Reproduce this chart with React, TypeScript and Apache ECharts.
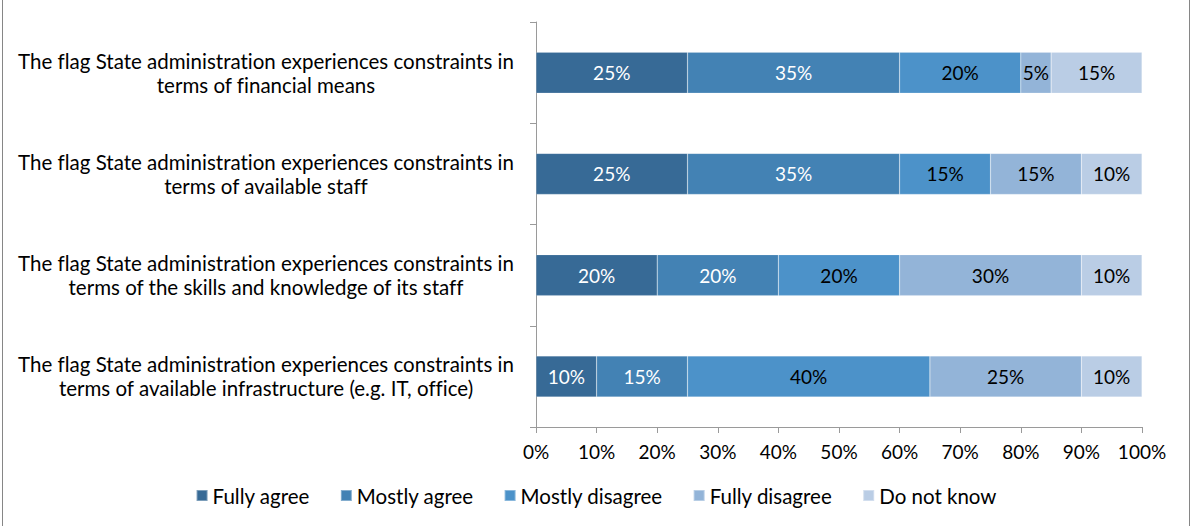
import React, { useEffect, useRef } from "react";
import * as echarts from "echarts";

const categories = [
  "The flag State administration experiences constraints in\nterms of financial means",
  "The flag State administration experiences constraints in\nterms of available staff",
  "The flag State administration experiences constraints in\nterms of the skills and knowledge of its staff",
  "The flag State administration experiences constraints in\nterms of available infrastructure (e.g. IT, office)",
];
const seriesNames = ["Fully agree", "Mostly agree", "Mostly disagree", "Fully disagree", "Do not know"];
const fullyAgree = [25, 25, 20, 10];
const mostlyAgree = [35, 35, 20, 15];
const mostlyDisagree = [20, 15, 20, 40];
const fullyDisagree = [5, 15, 30, 25];
const doNotKnow = [15, 10, 10, 10];
const xTicks = [0, 10, 20, 30, 40, 50, 60, 70, 80, 90, 100];

const colors = ["#376A96", "#4382B4", "#4C92C9", "#93B4D8", "#BACDE5"];
const labelColors = ["#ffffff", "#ffffff", "#000000", "#000000", "#000000"];
const FONT = "Lato";
const AXIS = "#9A9A9A";

export default function App() {
  const ref = useRef<HTMLDivElement>(null);
  useEffect(() => {
    if (!ref.current) return;
    const chart = echarts.init(ref.current, null, { renderer: "svg" });
    const data = [fullyAgree, mostlyAgree, mostlyDisagree, fullyDisagree, doNotKnow];
    chart.setOption({
      animation: false,
      textStyle: { fontFamily: FONT },
      grid: { left: 536, right: 50, top: 22, bottom: 99, containLabel: false },
      legend: {
        data: seriesNames,
        bottom: 15,
        left: "center",
        icon: "rect",
        itemWidth: 11,
        itemHeight: 11,
        itemGap: 30,
        textStyle: { fontFamily: FONT, fontSize: 20.5, color: "#000" },
      },
      xAxis: {
        type: "value",
        min: 0,
        max: 100,
        interval: 10,
        axisLine: { show: true, lineStyle: { color: AXIS } },
        axisTick: { show: true, length: 6, lineStyle: { color: AXIS } },
        splitLine: { show: false },
        axisLabel: {
          formatter: (v: number) => (xTicks.includes(v) ? v + "%" : ""),
          color: "#000",
          fontSize: 19,
          fontFamily: FONT,
          margin: 15,
        },
      },
      yAxis: {
        type: "category",
        data: categories,
        inverse: true,
        axisLine: { show: true, lineStyle: { color: AXIS } },
        axisTick: { show: true, length: 6, lineStyle: { color: AXIS } },
        axisLabel: {
          align: "center",
          margin: 270,
          color: "#000",
          fontSize: 20.5,
          lineHeight: 24,
          fontFamily: FONT,
        },
      },
      series: seriesNames.map((name, i) => ({
        name,
        type: "bar",
        stack: "total",
        data: data[i],
        barWidth: 41,
        itemStyle: { color: colors[i], borderColor: "rgba(255,255,255,0.35)", borderWidth: 0.5 },
        label: {
          show: true,
          position: "inside",
          formatter: "{c}%",
          color: labelColors[i],
          fontSize: 19,
          fontFamily: FONT,
        },
      })),
      graphic: [
        { type: "line", shape: { x1: 2.5, y1: 0, x2: 2.5, y2: 526 }, style: { stroke: "#868686", lineWidth: 1 } },
        { type: "line", shape: { x1: 1189.5, y1: 0, x2: 1189.5, y2: 526 }, style: { stroke: "#868686", lineWidth: 1 } },
      ],
    });
    return () => chart.dispose();
  }, []);
  return (
    <div
      ref={ref}
      style={{
        width: 1192,
        height: 526,
        position: "absolute",
        left: 0,
        top: 0,
        fontVariantLigatures: "none",
        fontFeatureSettings: '"liga" 0, "clig" 0',
      }}
    />
  );
}
